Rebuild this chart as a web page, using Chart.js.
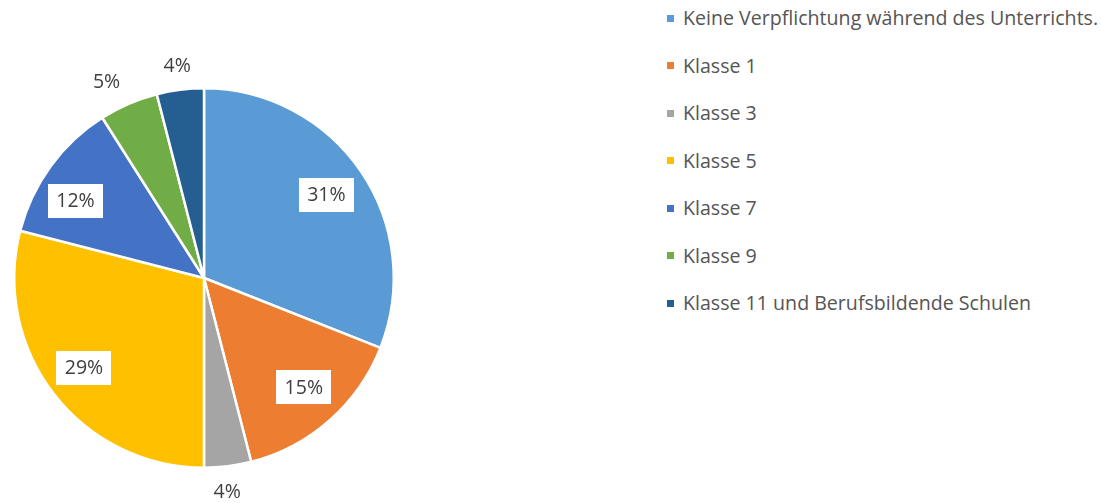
<!DOCTYPE html>
<html><head><meta charset="utf-8">
<script src="https://cdn.jsdelivr.net/npm/chart.js@4/dist/chart.umd.min.js"></script>
<style>
html,body{margin:0;padding:0;background:#fff;}
#wrap{position:relative;width:1101px;height:503px;overflow:hidden;}
#cv{position:absolute;left:0;top:0;}
#legend{position:absolute;left:667px;top:5px;margin:0;padding:0;list-style:none;font-family:"Open Sans",sans-serif;font-size:19.6px;color:#555555;}
#legend li{height:47.5px;line-height:26px;display:flex;align-items:flex-start;white-space:nowrap;}
#legend .sw{display:inline-block;width:7px;height:7px;margin-top:9.5px;margin-right:9px;}
</style></head>
<body><div id="wrap"><canvas id="cv" width="420" height="503"></canvas><ul id="legend"></ul></div>
<script>
const categories = ["Keine Verpflichtung während des Unterrichts.","Klasse 1","Klasse 3","Klasse 5","Klasse 7","Klasse 9","Klasse 11 und Berufsbildende Schulen"];
const shares = [31, 15, 4, 29, 12, 5, 4];
const percentLabels = ["31%","15%","4%","29%","12%","5%","4%"];
const colors = ["#5B9BD5","#ED7D31","#A5A5A5","#FFC000","#4472C4","#70AD47","#255E91"];
// label placement (style): radial factor, angular shift in degrees, boxed?
const labelRadius = [0.78, 0.78, 1.13, 0.79, 0.79, 1.155, 1.13];
const labelShift = [0, -1, 1, 1, -5, -3, 0];
const labelBoxed = [true, true, false, true, true, false, false];

const leg = document.getElementById('legend');
categories.forEach((c,i)=>{
  const li=document.createElement('li');
  const sw=document.createElement('span');sw.className='sw';sw.style.background=colors[i];
  li.appendChild(sw);li.appendChild(document.createTextNode(c));leg.appendChild(li);
});

const labelPlugin = {
  id:'sliceLabels',
  afterDatasetsDraw(chart){
    const ctx=chart.ctx;
    const meta=chart.getDatasetMeta(0);
    ctx.save();
    ctx.font='19.5px "Open Sans", sans-serif';
    ctx.textAlign='center';ctx.textBaseline='middle';
    meta.data.forEach((arc,i)=>{
      const p=arc.getProps(['x','y','startAngle','endAngle','outerRadius'],true);
      const a=(p.startAngle+p.endAngle)/2 + labelShift[i]*Math.PI/180;
      const r=p.outerRadius*labelRadius[i];
      const x=p.x+Math.cos(a)*r, y=p.y+Math.sin(a)*r;
      const t=percentLabels[i];
      if(labelBoxed[i]){
        const w=55,h=34;
        ctx.fillStyle='#ffffff';
        ctx.fillRect(Math.round(x-w/2),Math.round(y-h/2),w,h);
      }
      ctx.fillStyle='#404040';
      ctx.fillText(t,x,y+1);
    });
    ctx.restore();
  }
};

new Chart(document.getElementById('cv'),{
  type:'pie',
  data:{labels:categories,datasets:[{data:shares,backgroundColor:colors,borderColor:'#ffffff',borderWidth:2.5}]},
  options:{
    responsive:false,animation:false,
    layout:{padding:{left:13,top:87,right:420-395,bottom:503-469}},
    plugins:{legend:{display:false},tooltip:{enabled:false}}
  },
  plugins:[labelPlugin]
});
</script></body></html>
